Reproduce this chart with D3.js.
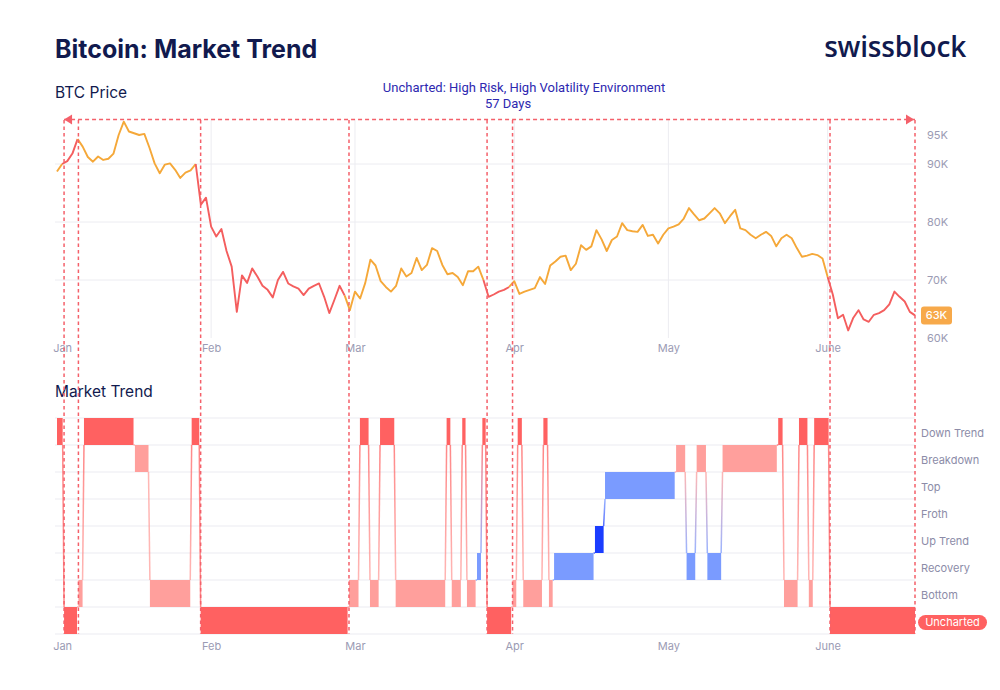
<!DOCTYPE html>
<html>
<head>
<meta charset="utf-8">
<script src="https://cdn.jsdelivr.net/npm/d3@7"></script>
<style>
  body { margin: 0; background: #fff; font-family: Inter, "Noto Sans", sans-serif; }
</style>
</head>
<body>
<div id="chart"></div>
<script>
// BTC price (in thousands USD), one value per day starting at priceStart
const priceStart = "2026-01-02";
const priceK = [
  88.7, 90.0, 90.5, 91.8, 94.3, 93.0, 91.2, 90.4, 91.3, 90.7,
  90.9, 91.8, 95.0, 97.3, 95.6, 95.3, 95.0, 95.2, 92.8, 90.1,
  88.4, 89.9, 90.1, 89.0, 87.6, 88.5, 88.9, 90.0, 83.0, 84.2,
  79.2, 77.5, 78.8, 75.0, 72.3, 64.5, 70.8, 69.5, 72.0, 70.6,
  69.0, 68.3, 67.0, 70.0, 71.4, 69.4, 68.9, 68.5, 67.4, 68.5,
  69.0, 69.4, 67.1, 64.3, 66.6, 69.0, 67.3, 64.8, 68.0, 66.8,
  69.5, 73.5, 72.5, 69.8, 68.8, 68.0, 69.0, 72.0, 70.6, 71.2,
  73.8, 71.7, 72.6, 75.5, 75.0, 72.6, 71.0, 71.2, 70.5, 69.1,
  71.5, 71.5, 72.3, 70.0, 67.1, 67.5, 68.0, 68.3, 68.8, 69.8,
  67.6, 68.0, 68.3, 68.6, 70.5, 69.3, 72.5, 73.2, 74.0, 74.2,
  71.7, 72.8, 76.0, 75.2, 75.8, 78.6, 77.0, 75.0, 76.9, 77.5,
  79.8, 78.6, 78.4, 78.3, 79.5, 77.6, 77.8, 76.3, 77.8, 78.9,
  79.2, 79.6, 80.6, 82.4, 81.3, 80.3, 80.6, 81.5, 82.4, 81.5,
  79.8, 81.0, 82.1, 78.9, 78.6, 77.8, 77.2, 77.8, 78.3, 77.6,
  75.8, 77.2, 77.8, 77.2, 75.5, 74.0, 74.2, 74.5, 74.3, 73.7,
  70.5, 67.5, 63.4, 64.0, 61.3, 63.5, 64.8, 63.2, 62.8, 64.0,
  64.3, 64.8, 65.8, 68.0, 67.1, 66.3, 64.5, 63.9
];

// market trend regimes: start of each period and its state
const trendStates = ["Down Trend", "Breakdown", "Top", "Froth", "Up Trend", "Recovery", "Bottom", "Uncharted"];
const periodStart = [
  "2026-01-02", "2026-01-03T09:00", "2026-01-06T04:00", "2026-01-07T06:00", "2026-01-17T04:00",
  "2026-01-20T02:00", "2026-01-28T05:00", "2026-01-29T23:00", "2026-02-27T20:00", "2026-03-01T23:00",
  "2026-03-03T22:00", "2026-03-05T21:00", "2026-03-08T22:00", "2026-03-18T20:00", "2026-03-19T20:00",
  "2026-03-21T21:00", "2026-03-22T19:00", "2026-03-24T18:00", "2026-03-25T19:00", "2026-03-26T17:00",
  "2026-03-31T16:00", "2026-04-01T16:00", "2026-04-02T18:00", "2026-04-06T16:00", "2026-04-07T18:00",
  "2026-04-08T18:00", "2026-04-16T17:00", "2026-04-18T16:00", "2026-05-02T12:00", "2026-05-04T13:00",
  "2026-05-06T12:00", "2026-05-08T14:00", "2026-05-11T13:00", "2026-05-22T09:00", "2026-05-23T12:00",
  "2026-05-26T10:00", "2026-05-28T08:00", "2026-05-29T09:00", "2026-06-01T11:00"
];
const periodState = [
  "Down Trend", "Uncharted", "Bottom", "Down Trend", "Breakdown",
  "Bottom", "Down Trend", "Uncharted", "Bottom", "Down Trend",
  "Bottom", "Down Trend", "Bottom", "Down Trend", "Bottom",
  "Down Trend", "Bottom", "Recovery", "Down Trend", "Uncharted",
  "Bottom", "Down Trend", "Bottom", "Down Trend", "Bottom",
  "Recovery", "Up Trend", "Top", "Breakdown", "Recovery",
  "Breakdown", "Recovery", "Breakdown", "Down Trend", "Bottom",
  "Down Trend", "Bottom", "Down Trend", "Uncharted"
];
const periodEnd = "2026-06-18";

const priceTicks = [60, 70, 80, 90, 95];
const priceGrid = [70, 80, 90];
const monthTicks = ["2026-01-03", "2026-02-01", "2026-03-01", "2026-04-01", "2026-05-01", "2026-06-01"];
const monthLabels = ["Jan", "Feb", "Mar", "Apr", "May", "June"];
const monthGrid = ["2026-02-01", "2026-03-01", "2026-04-01", "2026-05-01", "2026-06-01"];

const annotationTitle = "Uncharted: High Risk, High Volatility Environment";
const annotationDays = "57 Days";

const stateColor = {
  "Down Trend": "#ff6161", "Breakdown": "#ff9f9c", "Top": "#7a9bff", "Froth": "#4d6dff",
  "Up Trend": "#1b3dff", "Recovery": "#7a9bff", "Bottom": "#ff9f9c", "Uncharted": "#ff6161"
};

const parseT = s => new Date(s.length === 10 ? s + "T00:00:00Z" : s + ":00Z");

const width = 1000;
const height = 690;
const navy = "#111a4e";
const axisGrey = "#9b9bb4";
const dashRed = "#f4606a";

const svg = d3.select("#chart").append("svg")
    .attr("width", width)
    .attr("height", height)
    .attr("viewBox", [0, 0, width, height]);

// scales
const x = d3.scaleUtc()
    .domain([parseT(priceStart), parseT(periodEnd)])
    .range([57, 915]);

const y = d3.scaleLinear()
    .domain([60, 95])
    .range([338, 135]);

const yTrend = d3.scaleBand()
    .domain(trendStates)
    .range([418, 634]);

// titles
svg.append("text")
    .attr("x", 55).attr("y", 58)
    .attr("fill", navy)
    .attr("font-size", 25).attr("font-weight", 700)
    .text("Bitcoin: Market Trend");

svg.append("text")
    .attr("x", 966).attr("y", 57)
    .attr("text-anchor", "end")
    .attr("fill", navy)
    .attr("font-family", "'Open Sans', sans-serif")
    .attr("font-size", 28).attr("font-weight", 600)
    .attr("letter-spacing", -0.2)
    .text("swissblock");

svg.append("text")
    .attr("x", 55).attr("y", 98)
    .attr("fill", navy)
    .attr("font-size", 15.5)
    .text("BTC Price");

svg.append("text")
    .attr("x", 55).attr("y", 397)
    .attr("fill", navy)
    .attr("font-size", 15.5)
    .text("Market Trend");

// ---- price chart ----
svg.append("g")
    .selectAll("line")
    .data(priceGrid)
    .join("line")
    .attr("x1", 55).attr("x2", 915)
    .attr("y1", d => y(d)).attr("y2", d => y(d))
    .attr("stroke", "#ececf1");

svg.append("g")
    .selectAll("line")
    .data(monthGrid)
    .join("line")
    .attr("x1", d => x(parseT(d))).attr("x2", d => x(parseT(d)))
    .attr("y1", 120).attr("y2", 338)
    .attr("stroke", "#ececf1");

// periods table
const periods = periodStart.map((s, i) => ({
  start: parseT(s),
  end: parseT(i + 1 < periodStart.length ? periodStart[i + 1] : periodEnd),
  state: periodState[i]
}));
const uncharted = periods.filter(p => p.state === "Uncharted");
const isUncharted = t => uncharted.some(p => t >= p.start && t <= p.end);

// price line split into orange / red pieces
const t0 = parseT(priceStart);
const prices = priceK.map((v, i) => ({ date: d3.utcDay.offset(t0, i), value: v }));
const pieces = [];
prices.forEach((p, i) => {
  const red = isUncharted(p.date);
  const last = pieces[pieces.length - 1];
  if (!last || last.red !== red) {
    const pts = i > 0 ? [prices[i - 1], p] : [p];
    pieces.push({ red, pts });
  } else {
    last.pts.push(p);
  }
});

const line = d3.line()
    .x(d => x(d.date))
    .y(d => y(d.value));

svg.append("g")
    .selectAll("path")
    .data(pieces)
    .join("path")
    .attr("d", d => line(d.pts))
    .attr("fill", "none")
    .attr("stroke", d => d.red ? "#f45e5e" : "#f5a839")
    .attr("stroke-width", 1.9)
    .attr("stroke-linejoin", "round");

// price axis on the right
svg.append("g")
    .attr("transform", "translate(927,0)")
    .call(d3.axisRight(y).tickValues(priceTicks).tickFormat(d => d + "K").tickSize(0).tickPadding(0))
    .call(g => g.select(".domain").remove())
    .call(g => g.selectAll("text")
        .attr("fill", axisGrey)
        .attr("font-family", "Inter, sans-serif")
        .attr("font-size", 11));

// last price badge
const lastPrice = prices[prices.length - 1];
const badge = svg.append("g")
    .attr("transform", `translate(921,${y(lastPrice.value)})`);
badge.append("rect")
    .attr("x", 0).attr("y", -9)
    .attr("width", 31).attr("height", 18)
    .attr("rx", 3)
    .attr("fill", "#f7a94a");
badge.append("text")
    .attr("x", 15.5).attr("y", 0)
    .attr("dy", "0.35em")
    .attr("text-anchor", "middle")
    .attr("fill", "#fff")
    .attr("font-size", 11).attr("font-weight", 500)
    .text(Math.floor(lastPrice.value) + "K");

// month axes
const monthAxis = d3.axisBottom(x)
    .tickValues(monthTicks.map(parseT))
    .tickFormat((d, i) => monthLabels[i])
    .tickSize(0).tickPadding(0);

[344, 642].forEach(ty => {
  svg.append("g")
      .attr("transform", `translate(0,${ty})`)
      .call(monthAxis)
      .call(g => g.select(".domain").remove())
      .call(g => g.selectAll("text")
          .attr("fill", axisGrey)
          .attr("font-family", "Inter, sans-serif")
          .attr("font-size", 11));
});

// ---- market trend chart ----
svg.append("g")
    .selectAll("line")
    .data(trendStates.concat([null]))
    .join("line")
    .attr("x1", 55).attr("x2", 915)
    .attr("y1", d => d ? yTrend(d) : yTrend.range()[1])
    .attr("y2", d => d ? yTrend(d) : yTrend.range()[1])
    .attr("stroke", "#ececf1")
    .attr("stroke-width", 1.2);

const gap = 1.4;
const defs = svg.append("defs");

// connectors between consecutive regimes, edge of one band to the edge of the next
const links = periods.slice(1).map((p, i) => {
  const from = periods[i], to = p;
  const down = yTrend(to.state) > yTrend(from.state);
  const h = yTrend.bandwidth();
  return {
    from, to, id: "lk" + i,
    x1: x(to.start) - gap, x2: x(to.start),
    y1: yTrend(from.state) + (down ? h : 0),
    y2: yTrend(to.state) + (down ? 0 : h)
  };
});

defs.selectAll("linearGradient")
    .data(links)
    .join("linearGradient")
    .attr("id", d => d.id)
    .attr("gradientUnits", "userSpaceOnUse")
    .attr("x1", 0).attr("x2", 0)
    .attr("y1", d => d.y1)
    .attr("y2", d => d.y2)
    .call(g => g.append("stop").attr("offset", 0).attr("stop-color", d => stateColor[d.from.state]))
    .call(g => g.append("stop").attr("offset", 1).attr("stop-color", d => stateColor[d.to.state]));

svg.append("g")
    .selectAll("line")
    .data(links)
    .join("line")
    .attr("x1", d => d.x1).attr("x2", d => d.x2)
    .attr("y1", d => d.y1).attr("y2", d => d.y2)
    .attr("stroke", d => `url(#${d.id})`)
    .attr("stroke-width", 1.5)
    .attr("opacity", 0.75);

svg.append("g")
    .selectAll("rect")
    .data(periods)
    .join("rect")
    .attr("x", d => x(d.start))
    .attr("width", (d, i) => Math.max(0.5, x(d.end) - x(d.start) - (i < periods.length - 1 ? gap : 0)))
    .attr("y", d => yTrend(d.state))
    .attr("height", yTrend.bandwidth())
    .attr("fill", d => stateColor[d.state]);

// state labels on the right
const stateLabels = svg.append("g")
    .selectAll("g")
    .data(trendStates)
    .join("g")
    .attr("transform", d => `translate(921,${yTrend(d) + yTrend.bandwidth() / 2 + 2})`);

stateLabels.filter(d => d === "Uncharted")
    .append("rect")
    .attr("x", -3).attr("y", -7.5)
    .attr("width", 69).attr("height", 15)
    .attr("rx", 7.5)
    .attr("fill", "#ff6161");

stateLabels.append("text")
    .attr("x", d => d === "Uncharted" ? 31.5 : 0)
    .attr("dy", "0.35em")
    .attr("text-anchor", d => d === "Uncharted" ? "middle" : "start")
    .attr("fill", d => d === "Uncharted" ? "#fff" : "#8c8ca8")
    .attr("font-size", 11)
    .text(d => d);

// ---- uncharted annotation: dashed bounds and arrow ----
const bounds = uncharted.flatMap(p => [p.start, p.end]);
const xLeft = x(d3.min(bounds)), xRight = x(d3.max(bounds));

svg.append("g")
    .selectAll("line")
    .data(bounds)
    .join("line")
    .attr("x1", d => x(d)).attr("x2", d => x(d))
    .attr("y1", 120).attr("y2", 634)
    .attr("stroke", dashRed)
    .attr("stroke-width", 1.5)
    .attr("stroke-dasharray", "3.5,3");

svg.append("line")
    .attr("x1", xLeft).attr("x2", xRight)
    .attr("y1", 119.5).attr("y2", 119.5)
    .attr("stroke", dashRed)
    .attr("stroke-width", 1.5)
    .attr("stroke-dasharray", "4,3");

svg.append("path")
    .attr("d", `M${xLeft},119.5L${xLeft + 8},114.5L${xLeft + 8},124.5Z`)
    .attr("fill", dashRed);
svg.append("path")
    .attr("d", `M${xRight - 1},119.5L${xRight - 9},114.5L${xRight - 9},124.5Z`)
    .attr("fill", dashRed);

svg.append("text")
    .attr("x", 524).attr("y", 92)
    .attr("text-anchor", "middle")
    .attr("fill", "#2d28b0")
    .attr("font-family", "Roboto, sans-serif")
    .attr("font-size", 13)
    .text(annotationTitle);

svg.append("text")
    .attr("x", 508).attr("y", 108)
    .attr("text-anchor", "middle")
    .attr("fill", "#2d28b0")
    .attr("font-family", "Roboto, sans-serif")
    .attr("font-size", 13)
    .text(annotationDays);
</script>
</body>
</html>
